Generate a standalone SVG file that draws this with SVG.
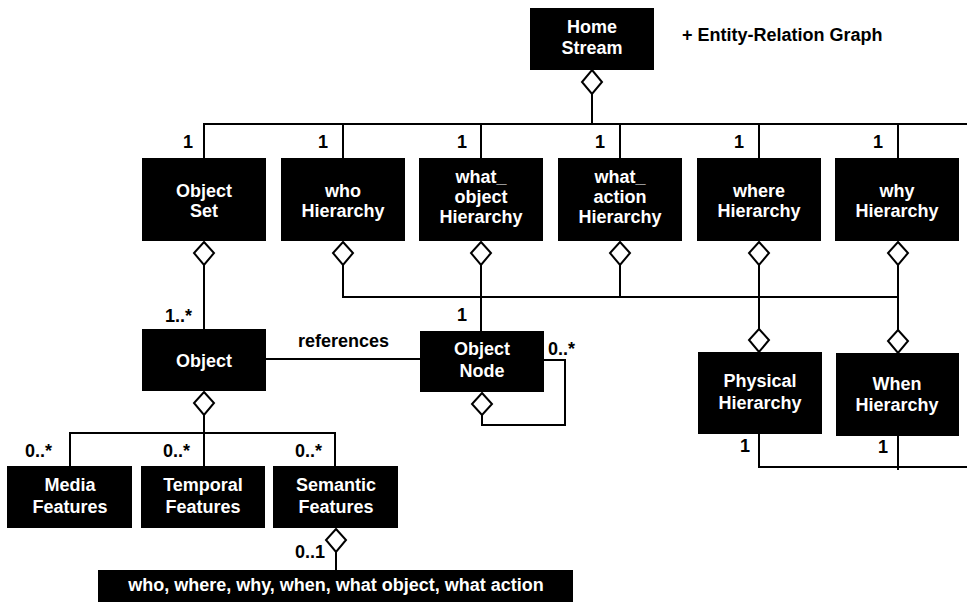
<svg xmlns="http://www.w3.org/2000/svg" width="967" height="602" viewBox="0 0 967 602">
<defs>
<style>
.box{fill:#000}
.t{font-family:"Liberation Sans",Arial,Helvetica,sans-serif;font-weight:bold;font-size:18px;text-anchor:middle;fill:#fff}
.l{font-family:"Liberation Sans",Arial,Helvetica,sans-serif;font-weight:bold;font-size:18px;fill:#000}
.c{fill:none;stroke:#000;stroke-width:2}
.d{fill:#fff;stroke:#000;stroke-width:2}
</style>
</defs>
<rect width="967" height="602" fill="#fff"/>
<g id="connectors">
<path class="c" d="M592,94 V124"/>
<path class="c" d="M204,158 V124 H967"/>
<path class="c" d="M343,124 V158 M481,124 V158 M620,124 V158 M759,124 V158 M898,124 V158"/>
<path class="c" d="M204,265 V329"/>
<path class="c" d="M343,265 V297 H898"/>
<path class="c" d="M481,265 V331"/>
<path class="c" d="M620,265 V297"/>
<path class="c" d="M759,265 V329"/>
<path class="c" d="M898,265 V330"/>
<path class="c" d="M266,359 H420"/>
<path class="c" d="M544,360 H565 V425 H482 V415"/>
<path class="c" d="M204,415 V466"/>
<path class="c" d="M70,466 V433 H335 V466"/>
<path class="c" d="M336,552 V570"/>
<path class="c" d="M759,434 V467 H967"/>
<path class="c" d="M898,436 V470"/>
<polygon class="d" points="592,70 602,82 592,94 582,82"/>
<polygon class="d" points="204,242 214,253 204,265 194,253"/>
<polygon class="d" points="343,242 353,253 343,265 333,253"/>
<polygon class="d" points="481,242 491,253 481,265 471,253"/>
<polygon class="d" points="620,242 630,253 620,265 610,253"/>
<polygon class="d" points="759,242 769,253 759,265 749,253"/>
<polygon class="d" points="898,242 908,253 898,265 888,253"/>
<polygon class="d" points="759,329 769,340 759,352 749,340"/>
<polygon class="d" points="898,330 908,341 898,353 888,341"/>
<polygon class="d" points="204,392 214,403 204,415 194,403"/>
<polygon class="d" points="482,393 492,404 482,415 472,404"/>
<polygon class="d" points="336,529 346,540 336,552 326,540"/>
<text class="l" x="183" y="148">1</text>
<text class="l" x="318" y="148">1</text>
<text class="l" x="457" y="148">1</text>
<text class="l" x="595" y="148">1</text>
<text class="l" x="734" y="148">1</text>
<text class="l" x="873" y="148">1</text>
<text class="l" x="165" y="322">1..*</text>
<text class="l" x="457" y="321">1</text>
<text class="l" x="548" y="355">0..*</text>
<text class="l" x="298" y="347">references</text>
<text class="l" x="740" y="452">1</text>
<text class="l" x="878" y="453">1</text>
<text class="l" x="25" y="457">0..*</text>
<text class="l" x="163" y="457">0..*</text>
<text class="l" x="295" y="457">0..*</text>
<text class="l" x="295" y="558">0..1</text>
</g>
<g id="home-stream">
<rect class="box" x="530" y="8" width="124" height="62"/>
<text class="t" x="592" y="33">Home</text>
<text class="t" x="592" y="54">Stream</text>
</g>
<g id="er-graph-label">
<text class="l" x="682" y="41">+ Entity-Relation Graph</text>
</g>
<g id="object-set">
<rect class="box" x="142" y="158" width="124" height="83"/>
<text class="t" x="204" y="197">Object</text>
<text class="t" x="204" y="217">Set</text>
</g>
<g id="who-hierarchy">
<rect class="box" x="281" y="158" width="124" height="83"/>
<text class="t" x="343" y="197">who</text>
<text class="t" x="343" y="217">Hierarchy</text>
</g>
<g id="what-object-hierarchy">
<rect class="box" x="419" y="158" width="124" height="83"/>
<text class="t" x="481" y="183">what_</text>
<text class="t" x="481" y="203">object</text>
<text class="t" x="481" y="223">Hierarchy</text>
</g>
<g id="what-action-hierarchy">
<rect class="box" x="558" y="158" width="124" height="83"/>
<text class="t" x="620" y="183">what_</text>
<text class="t" x="620" y="203">action</text>
<text class="t" x="620" y="223">Hierarchy</text>
</g>
<g id="where-hierarchy">
<rect class="box" x="697" y="158" width="124" height="83"/>
<text class="t" x="759" y="197">where</text>
<text class="t" x="759" y="217">Hierarchy</text>
</g>
<g id="why-hierarchy">
<rect class="box" x="835" y="158" width="124" height="83"/>
<text class="t" x="897" y="197">why</text>
<text class="t" x="897" y="217">Hierarchy</text>
</g>
<g id="object">
<rect class="box" x="142" y="329" width="124" height="62"/>
<text class="t" x="204" y="367">Object</text>
</g>
<g id="object-node">
<rect class="box" x="420" y="331" width="124" height="61"/>
<text class="t" x="482" y="355">Object</text>
<text class="t" x="482" y="377">Node</text>
</g>
<g id="physical-hierarchy">
<rect class="box" x="698" y="352" width="124" height="82"/>
<text class="t" x="760" y="387">Physical</text>
<text class="t" x="760" y="409">Hierarchy</text>
</g>
<g id="when-hierarchy">
<rect class="box" x="836" y="353" width="123" height="83"/>
<text class="t" x="897" y="390">When</text>
<text class="t" x="897" y="411">Hierarchy</text>
</g>
<g id="media-features">
<rect class="box" x="7" y="466" width="125" height="62"/>
<text class="t" x="70" y="491">Media</text>
<text class="t" x="70" y="513">Features</text>
</g>
<g id="temporal-features">
<rect class="box" x="141" y="466" width="124" height="62"/>
<text class="t" x="203" y="491">Temporal</text>
<text class="t" x="203" y="513">Features</text>
</g>
<g id="semantic-features">
<rect class="box" x="273" y="466" width="125" height="62"/>
<text class="t" x="336" y="491">Semantic</text>
<text class="t" x="336" y="513">Features</text>
</g>
<g id="semantic-list">
<rect class="box" x="98" y="570" width="475" height="32"/>
<text class="t" x="336" y="591">who, where, why, when, what object, what action</text>
</g>
</svg>
